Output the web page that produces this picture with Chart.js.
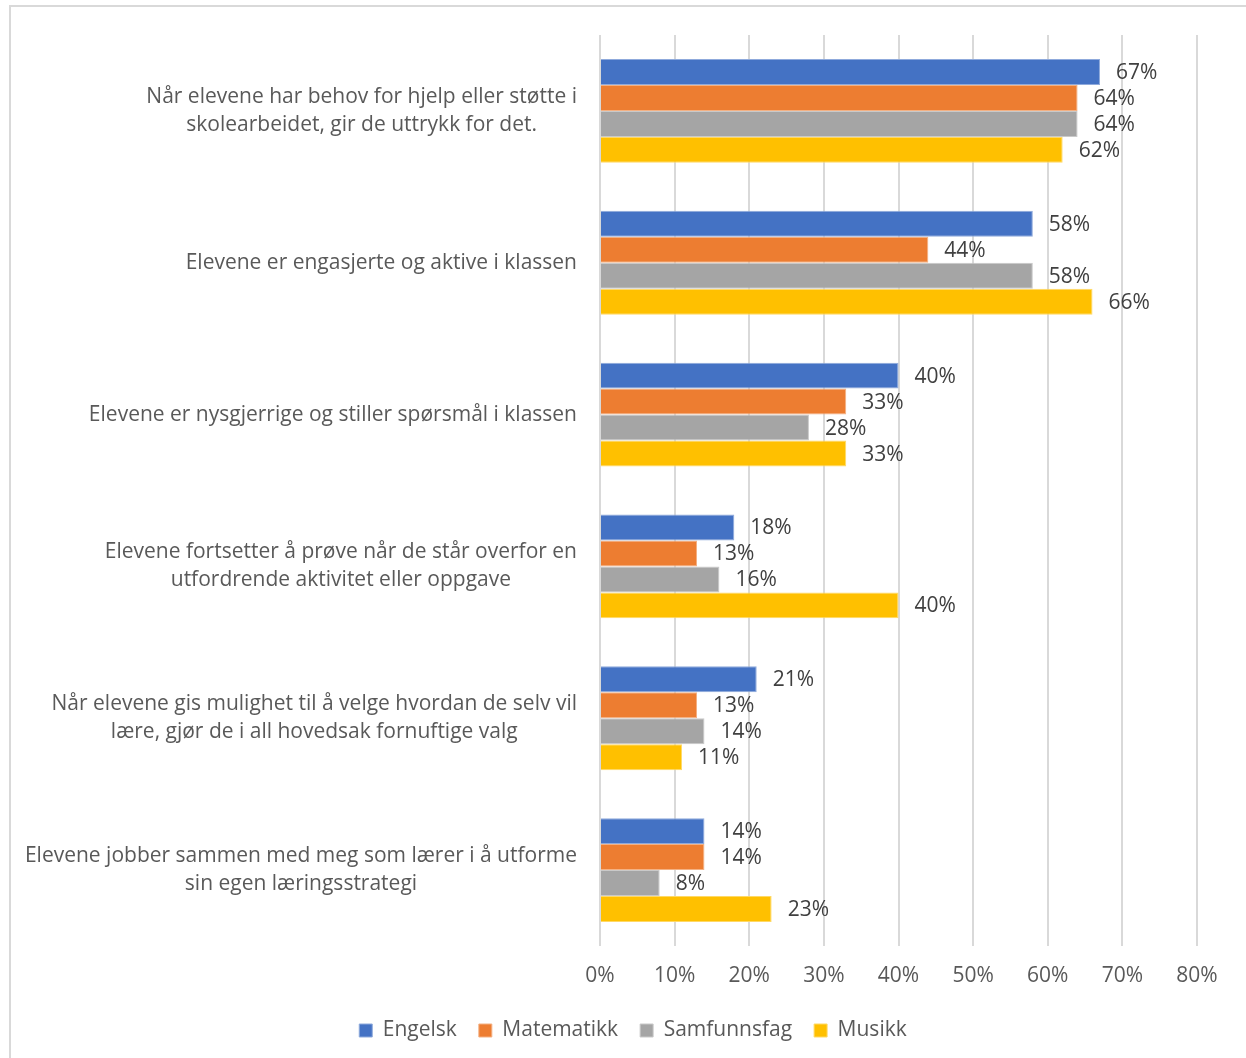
<!DOCTYPE html>
<html>
<head>
<meta charset="utf-8">
<script src="https://cdn.jsdelivr.net/npm/chart.js@4.4.1/dist/chart.umd.min.js"></script>
<style>
  html, body { margin: 0; padding: 0; background: #fff; }
  #frame {
    position: absolute; left: 9px; top: 5px; width: 1250px; height: 1060px;
    border: 2px solid #d9d9d9; box-sizing: border-box;
  }
  #wrap { position: absolute; left: 0; top: 0; width: 1246px; height: 1058px; }
</style>
</head>
<body>
<div id="frame"></div>
<div id="wrap"><canvas id="chart" width="1246" height="1058"></canvas></div>
<script>
const categories = [
  ['Når elevene har behov for hjelp eller støtte i', 'skolearbeidet, gir de uttrykk for det.'],
  ['Elevene er engasjerte og aktive i klassen'],
  ['Elevene er nysgjerrige og stiller spørsmål i klassen'],
  ['Elevene fortsetter å prøve når de står overfor en', 'utfordrende aktivitet eller oppgave'],
  ['Når elevene gis mulighet til å velge hvordan de selv vil', 'lære, gjør de i all hovedsak fornuftige valg'],
  ['Elevene jobber sammen med meg som lærer i å utforme', 'sin egen læringsstrategi']
];
const engelsk = [67, 58, 40, 18, 21, 14];
const matematikk = [64, 44, 33, 13, 13, 14];
const samfunnsfag = [64, 58, 28, 16, 14, 8];
const musikk = [62, 66, 33, 40, 11, 23];
const xTicks = [0, 10, 20, 30, 40, 50, 60, 70, 80];

const FONT = '"Open Sans", Lato, sans-serif';

// value labels to the right of each bar
const barValues = {
  id: 'barValues',
  afterDatasetsDraw(chart) {
    const ctx = chart.ctx;
    ctx.save();
    ctx.font = '21px ' + FONT;
    ctx.fillStyle = '#404040';
    ctx.textAlign = 'left';
    ctx.textBaseline = 'middle';
    chart.data.datasets.forEach((ds, i) => {
      chart.getDatasetMeta(i).data.forEach((bar, j) => {
        ctx.fillText(ds.data[j] + '%', bar.x + 16, bar.y + 1);
      });
    });
    ctx.restore();
  }
};

// category labels: each block right-aligned, lines centred within the block
const categoryLabels = {
  id: 'categoryLabels',
  afterDraw(chart) {
    const ctx = chart.ctx;
    const scale = chart.scales.y;
    const right = chart.chartArea.left - 23;
    const lh = 28;
    ctx.save();
    ctx.font = '21px ' + FONT;
    ctx.fillStyle = '#595959';
    ctx.textAlign = 'center';
    ctx.textBaseline = 'middle';
    scale.getLabels().forEach((lines, i) => {
      const y = scale.getPixelForTick(i);
      const w = Math.max(...lines.map(l => ctx.measureText(l).width));
      const cx = right - w / 2;
      const y0 = y - (lines.length - 1) * lh / 2;
      lines.forEach((l, k) => ctx.fillText(l, cx, y0 + k * lh));
    });
    ctx.restore();
  }
};

new Chart(document.getElementById('chart'), {
  type: 'bar',
  data: {
    labels: categories,
    datasets: [
      { label: 'Engelsk', data: engelsk, backgroundColor: '#4472C4', borderColor: '#8faadc' },
      { label: 'Matematikk', data: matematikk, backgroundColor: '#ED7D31', borderColor: '#f4b183' },
      { label: 'Samfunnsfag', data: samfunnsfag, backgroundColor: '#A5A5A5', borderColor: '#c9c9c9' },
      { label: 'Musikk', data: musikk, backgroundColor: '#FFC000', borderColor: '#ffd966' }
    ]
  },
  options: {
    indexAxis: 'y',
    responsive: false,
    animation: false,
    datasets: { bar: { categoryPercentage: 0.684, barPercentage: 1, borderWidth: 1 } },
    layout: { padding: { left: 69, right: 49, top: 35, bottom: 7 } },
    scales: {
      x: {
        min: 0,
        max: 80,
        afterBuildTicks: (scale) => { scale.ticks = xTicks.map(v => ({ value: v })); },
        afterFit: (scale) => { scale.height = 52; },
        grid: { color: '#d9d9d9', lineWidth: 2, drawTicks: false },
        border: { display: false },
        ticks: {
          padding: 17,
          color: '#595959',
          font: { family: FONT, size: 21 },
          callback: (v) => v + '%'
        }
      },
      y: {
        afterFit: (scale) => { scale.width = 531; },
        grid: { display: false },
        border: { display: false },
        ticks: { display: false }
      }
    },
    plugins: {
      legend: {
        position: 'bottom',
        labels: {
          boxWidth: 13,
          boxHeight: 13,
          padding: 22,
          color: '#595959',
          font: { family: FONT, size: 21 }
        }
      },
      tooltip: { enabled: false }
    }
  },
  plugins: [barValues, categoryLabels]
});
</script>
</body>
</html>
